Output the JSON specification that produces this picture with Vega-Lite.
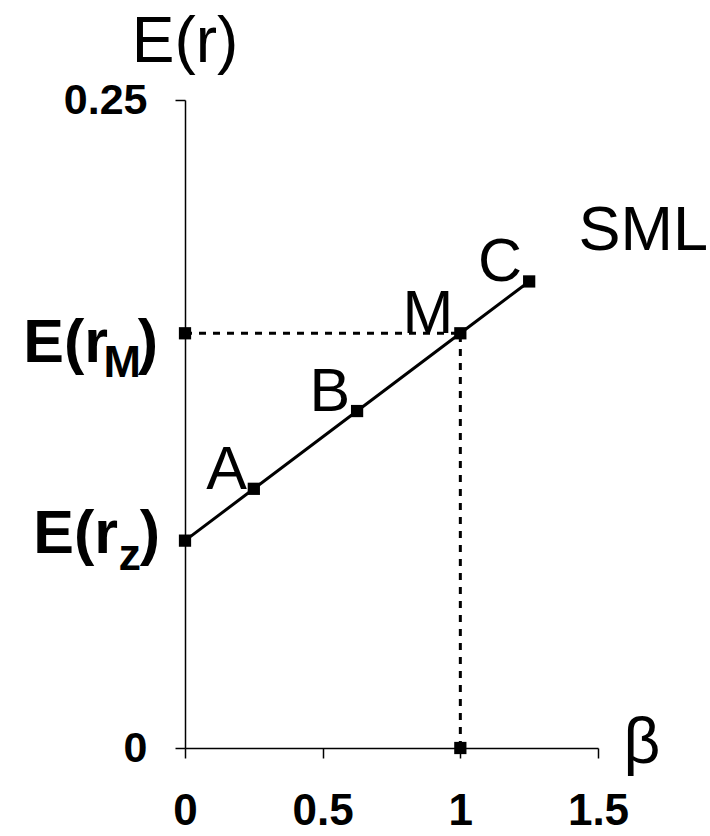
{
  "$schema": "https://vega.github.io/schema/vega-lite/v6.json",
  "width": 413,
  "height": 648,
  "autosize": "none",
  "padding": {"left": 185, "top": 100, "right": 112, "bottom": 88},
  "background": "white",
  "config": {
    "view": {"stroke": null},
    "font": "Liberation Sans",
    "axis": {"grid": false, "domainColor": "black", "tickColor": "black", "domainWidth": 1.5, "tickWidth": 1.5, "labelColor": "black", "tickSize": 10, "title": null}
  },
  "datasets": {
    "sml": [
      {"beta": 0, "er": 0.08, "label": ""},
      {"beta": 0.25, "er": 0.10, "label": "A"},
      {"beta": 0.625, "er": 0.13, "label": "B"},
      {"beta": 1, "er": 0.16, "label": "M"},
      {"beta": 1.25, "er": 0.18, "label": "C"}
    ],
    "guides": [
      {"beta": 0, "beta2": 1, "er": 0.16, "er2": 0.16},
      {"beta": 1, "beta2": 1, "er": 0, "er2": 0.16}
    ],
    "guidePoints": [
      {"beta": 0, "er": 0.16},
      {"beta": 1, "er": 0}
    ]
  },
  "layer": [
    {
      "data": {"name": "guides"},
      "mark": {"type": "rule", "strokeDash": [7, 7], "strokeWidth": 3, "color": "black"},
      "encoding": {
        "x": {"field": "beta", "type": "quantitative", "scale": {"domain": [0, 1.5], "nice": false},
              "axis": {"values": [0, 0.5, 1, 1.5], "labelPadding": 31, "labelFlush": false, "labelFontSize": 44, "labelFontWeight": "bold", "labelFont": "Liberation Sans", "labelExpr": "datum.value"}},
        "y": {"field": "er", "type": "quantitative", "scale": {"domain": [0, 0.25], "nice": false},
              "axis": {"values": [0, 0.25], "labelPadding": 28, "labelFlush": false, "labelFontSize": 43, "labelFontWeight": "bold", "labelFont": "Liberation Sans", "labelExpr": "datum.value"}},
        "x2": {"field": "beta2"},
        "y2": {"field": "er2"}
      }
    },
    {
      "data": {"name": "guidePoints"},
      "mark": {"type": "point", "shape": "square", "filled": true, "size": 150, "color": "black", "opacity": 1},
      "encoding": {
        "x": {"field": "beta", "type": "quantitative"},
        "y": {"field": "er", "type": "quantitative"}
      }
    },
    {
      "data": {"name": "sml"},
      "mark": {"type": "line", "color": "black", "strokeWidth": 3},
      "encoding": {
        "x": {"field": "beta", "type": "quantitative"},
        "y": {"field": "er", "type": "quantitative"}
      }
    },
    {
      "data": {"name": "sml"},
      "mark": {"type": "point", "shape": "square", "filled": true, "size": 150, "color": "black", "opacity": 1},
      "encoding": {
        "x": {"field": "beta", "type": "quantitative"},
        "y": {"field": "er", "type": "quantitative"}
      }
    },
    {
      "data": {"name": "sml"},
      "mark": {"type": "text", "align": "right", "baseline": "alphabetic", "dx": -7, "dy": 0, "fontSize": 61, "font": "Liberation Sans", "color": "black"},
      "encoding": {
        "x": {"field": "beta", "type": "quantitative"},
        "y": {"field": "er", "type": "quantitative"},
        "text": {"field": "label"}
      }
    },
    {
      "data": {"values": [{"beta": 0, "er": 0.2647, "t": "E(r)"}]},
      "mark": {"type": "text", "align": "center", "baseline": "alphabetic", "fontSize": 64, "font": "Liberation Sans", "color": "black"},
      "encoding": {
        "x": {"field": "beta", "type": "quantitative"},
        "y": {"field": "er", "type": "quantitative"},
        "text": {"field": "t"}
      }
    },
    {
      "data": {"values": [{"beta": 1.429, "er": 0.1921, "t": "SML"}]},
      "mark": {"type": "text", "align": "left", "baseline": "alphabetic", "fontSize": 63, "font": "Liberation Sans", "color": "black"},
      "encoding": {
        "x": {"field": "beta", "type": "quantitative"},
        "y": {"field": "er", "type": "quantitative"},
        "text": {"field": "t"}
      }
    },
    {
      "data": {"values": [{"beta": 1.593, "er": 0, "t": "β"}]},
      "mark": {"type": "text", "align": "left", "baseline": "alphabetic", "dy": 15, "fontSize": 64, "font": "Liberation Sans", "color": "black"},
      "encoding": {
        "x": {"field": "beta", "type": "quantitative"},
        "y": {"field": "er", "type": "quantitative"},
        "text": {"field": "t"}
      }
    },
    {
      "data": {"values": [{"beta": 0, "er": 0.16, "t": "E(r"}]},
      "mark": {"type": "text", "align": "right", "baseline": "alphabetic", "dx": -77, "dy": 29, "fontSize": 61, "fontWeight": "bold", "font": "Liberation Sans", "color": "black"},
      "encoding": {
        "x": {"field": "beta", "type": "quantitative"},
        "y": {"field": "er", "type": "quantitative"},
        "text": {"field": "t"}
      }
    },
    {
      "data": {"values": [{"beta": 0, "er": 0.16, "t": "M"}]},
      "mark": {"type": "text", "align": "right", "baseline": "alphabetic", "dx": -44, "dy": 44, "fontSize": 45, "fontWeight": "bold", "font": "Liberation Sans", "color": "black"},
      "encoding": {
        "x": {"field": "beta", "type": "quantitative"},
        "y": {"field": "er", "type": "quantitative"},
        "text": {"field": "t"}
      }
    },
    {
      "data": {"values": [{"beta": 0, "er": 0.16, "t": ")"}]},
      "mark": {"type": "text", "align": "right", "baseline": "alphabetic", "dx": -27, "dy": 29, "fontSize": 61, "fontWeight": "bold", "font": "Liberation Sans", "color": "black"},
      "encoding": {
        "x": {"field": "beta", "type": "quantitative"},
        "y": {"field": "er", "type": "quantitative"},
        "text": {"field": "t"}
      }
    },
    {
      "data": {"values": [{"beta": 0, "er": 0.08, "t": "E(r"}]},
      "mark": {"type": "text", "align": "right", "baseline": "alphabetic", "dx": -67, "dy": 12, "fontSize": 61, "fontWeight": "bold", "font": "Liberation Sans", "color": "black"},
      "encoding": {
        "x": {"field": "beta", "type": "quantitative"},
        "y": {"field": "er", "type": "quantitative"},
        "text": {"field": "t"}
      }
    },
    {
      "data": {"values": [{"beta": 0, "er": 0.08, "t": "z"}]},
      "mark": {"type": "text", "align": "right", "baseline": "alphabetic", "dx": -44, "dy": 29, "fontSize": 45, "fontWeight": "bold", "font": "Liberation Sans", "color": "black"},
      "encoding": {
        "x": {"field": "beta", "type": "quantitative"},
        "y": {"field": "er", "type": "quantitative"},
        "text": {"field": "t"}
      }
    },
    {
      "data": {"values": [{"beta": 0, "er": 0.08, "t": ")"}]},
      "mark": {"type": "text", "align": "right", "baseline": "alphabetic", "dx": -25, "dy": 12, "fontSize": 61, "fontWeight": "bold", "font": "Liberation Sans", "color": "black"},
      "encoding": {
        "x": {"field": "beta", "type": "quantitative"},
        "y": {"field": "er", "type": "quantitative"},
        "text": {"field": "t"}
      }
    }
  ]
}
